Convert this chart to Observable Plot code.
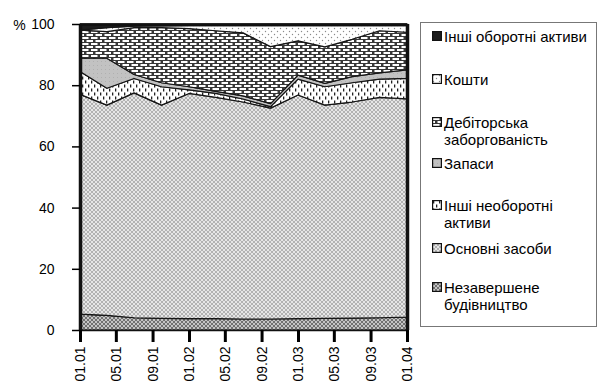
<!DOCTYPE html>
<html>
<head>
<meta charset="utf-8">
<script src="https://cdn.jsdelivr.net/npm/d3@7"></script>
<script src="https://cdn.jsdelivr.net/npm/@observablehq/plot@0.6"></script>
<style>
  html, body { margin: 0; padding: 0; background: #fff; }
  #wrap { position: relative; width: 600px; height: 391px; font-family: "Liberation Sans", Arial, sans-serif; color: #000; }
  #chart { position: absolute; left: 0; top: 0; }
  #legend { position: absolute; left: 420px; top: 22px; width: 177px; height: 305px; border: 1px solid #777; box-sizing: border-box; background: #fff; }
  .item { position: absolute; left: 11px; font-size: 15px; line-height: 17px; }
  .item svg { position: absolute; left: 0; top: 3px; }
  .item span { position: absolute; left: 12px; white-space: nowrap; }
</style>
</head>
<body>
<svg width="0" height="0" style="position:absolute">
  <defs>
    <pattern id="pNez" patternUnits="userSpaceOnUse" width="4" height="4">
      <rect width="4" height="4" fill="#c4c4c4"/>
      <path d="M0,0 L4,4 M4,0 L0,4" stroke="#666" stroke-width="0.9"/>
    </pattern>
    <pattern id="pOsn" patternUnits="userSpaceOnUse" width="4" height="4">
      <rect width="4" height="4" fill="#e6e6e6"/>
      <path d="M0,0 L4,4 M4,0 L0,4" stroke="#9c9c9c" stroke-width="0.7"/>
    </pattern>
    <pattern id="pIns" patternUnits="userSpaceOnUse" width="6" height="8">
      <rect width="6" height="8" fill="#ffffff"/>
      <rect x="1" y="0.5" width="1.3" height="3" fill="#222"/>
      <rect x="4" y="4.5" width="1.3" height="3" fill="#222"/>
    </pattern>
    <pattern id="pZap" patternUnits="userSpaceOnUse" width="4" height="4">
      <rect width="4" height="4" fill="#c2c2c2"/>
      <rect x="1" y="1" width="1" height="1" fill="#b0b0b0"/>
    </pattern>
    <pattern id="pDeb" patternUnits="userSpaceOnUse" width="9" height="6">
      <rect width="9" height="6" fill="#383838"/>
      <rect x="1" y="1" width="6.5" height="2" fill="#ffffff"/>
      <rect x="5.5" y="4" width="6.5" height="2" fill="#ffffff"/>
      <rect x="-3.5" y="4" width="6.5" height="2" fill="#ffffff"/>
    </pattern>
    <pattern id="pKos" patternUnits="userSpaceOnUse" width="6" height="6">
      <rect width="6" height="6" fill="#ffffff"/>
      <circle cx="1.5" cy="1.5" r="0.7" fill="#8a8a8a"/>
      <circle cx="4.5" cy="4.5" r="0.7" fill="#8a8a8a"/>
    </pattern>
    <pattern id="pOth" patternUnits="userSpaceOnUse" width="4" height="4">
      <rect width="4" height="4" fill="#1c1c1c"/>
    </pattern>
  </defs>
</svg>
<div id="wrap">
  <div id="chart"></div>
  <div id="legend"></div>
</div>
<script>
// Quarterly observation dates
const quarters = ["2001-01-01","2001-04-01","2001-07-01","2001-10-01",
                  "2002-01-01","2002-04-01","2002-07-01","2002-10-01",
                  "2003-01-01","2003-04-01","2003-07-01","2003-10-01","2004-01-01"];

// Series, bottom to top of the stack
const series = ["Незавершене будівництво","Основні засоби","Інші необоротні активи",
                "Запаси","Дебіторська заборгованість","Кошти","Інші оборотні активи"];

// Shares, % of total assets
const nezavershene   = [5.2, 4.8, 4.0, 3.8, 3.7, 3.7, 3.6, 3.6, 3.7, 3.8, 3.9, 4.0, 4.2];
const osnovni        = [71.8, 68.7, 73.5, 69.7, 73.6, 72.3, 70.9, 68.9, 73.1, 69.7, 70.6, 72.0, 71.3];
const inshiNeobor    = [7.5, 5.5, 4.7, 6.0, 1.2, 1.3, 1.0, 0.5, 5.2, 6.0, 6.3, 6.0, 6.7];
const zapasy         = [4.3, 9.8, 1.3, 1.3, 1.0, 0.7, 1.0, 1.0, 1.3, 1.1, 2.0, 2.0, 2.8];
const debitorska     = [9.2, 8.7, 15.3, 18.0, 19.0, 19.8, 20.6, 18.6, 11.2, 11.9, 12.2, 13.8, 12.3];
const koshty         = [0.0, 1.3, 0.5, 0.6, 1.0, 1.7, 2.4, 6.9, 5.0, 7.0, 4.5, 1.7, 2.2];
const inshiOborotni  = [2.0, 1.2, 0.7, 0.6, 0.5, 0.5, 0.5, 0.5, 0.5, 0.5, 0.5, 0.5, 0.5];

const values = [nezavershene, osnovni, inshiNeobor, zapasy, debitorska, koshty, inshiOborotni];

// Axis ticks
const xTickLabels = ["01.01","05.01","09.01","01.02","05.02","09.02","01.03","05.03","09.03","01.04"];
const yTicks = [0, 20, 40, 60, 80, 100];

// Pattern fills per series (same order as series)
const fills = ["url(#pNez)","url(#pOsn)","url(#pIns)","url(#pZap)","url(#pDeb)","url(#pKos)","url(#pOth)"];

const rows = [];
series.forEach((s, i) => quarters.forEach((q, k) => rows.push({date: new Date(q), series: s, value: values[i][k]})));

const xTicks = xTickLabels.map(t => { const [m, y] = t.split("."); return new Date(Date.UTC(2000 + +y, +m - 1, 1)); });
const x0 = new Date(quarters[0]), x1 = new Date(quarters[quarters.length - 1]);

const chart = Plot.plot({
  width: 420, height: 391,
  marginLeft: 80, marginRight: 13, marginTop: 24, marginBottom: 61,
  style: {fontFamily: "'Liberation Sans', Arial, sans-serif", fontSize: "14px", color: "#000", background: "transparent"},
  x: {type: "utc", domain: [x0, x1]},
  y: {domain: [0, 100]},
  color: {type: "ordinal", domain: series, range: fills},
  marks: [
    Plot.areaY(rows, {x: "date", y: "value", z: "series", fill: "series", order: series,
                      stroke: "#151515", strokeWidth: 1.2, strokeLinejoin: "round"}),
    Plot.frame({stroke: "#111", strokeWidth: 1.5}),
    Plot.ruleX([x0, x1], {stroke: "#111", strokeWidth: 3.5}),
    Plot.ruleY([100], {stroke: "#111", strokeWidth: 2.5}),
    Plot.axisY({ticks: yTicks, tickSize: 8, tickPadding: 18, label: null, strokeWidth: 1.5, fontSize: 14}),
    Plot.axisX({ticks: xTicks, tickFormat: d => xTickLabels[xTicks.findIndex(t => +t === +d)],
                tickRotate: -90, tickSize: 12, tickPadding: 4, label: null, strokeWidth: 3, fontSize: 14}),
    Plot.text(["%"], {frameAnchor: "top-left", dx: -61, dy: 1, textAnchor: "middle", lineAnchor: "middle", fontSize: 14})
  ]
});
document.getElementById("chart").appendChild(chart);

// Legend (top to bottom)
const legendItems = [
  {i: 6, lines: ["Інші оборотні активи"], top: 5},
  {i: 5, lines: ["Кошти"], top: 48},
  {i: 4, lines: ["Дебіторська", "заборгованість"], top: 91},
  {i: 3, lines: ["Запаси"], top: 132},
  {i: 2, lines: ["Інші необоротні", "активи"], top: 174},
  {i: 1, lines: ["Основні засоби"], top: 217},
  {i: 0, lines: ["Незавершене", "будівництво"], top: 256}
];
const legend = document.getElementById("legend");
legendItems.forEach(it => {
  const d = document.createElement("div");
  d.className = "item";
  d.style.top = it.top + "px";
  d.innerHTML = `<svg width="10" height="10"><rect x="0.6" y="0.6" width="8.8" height="8.8" fill="${fills[it.i]}" stroke="#111" stroke-width="1.2"/></svg>` +
    `<span>${it.lines.join("<br>")}</span>`;
  legend.appendChild(d);
});
</script>
</body>
</html>
